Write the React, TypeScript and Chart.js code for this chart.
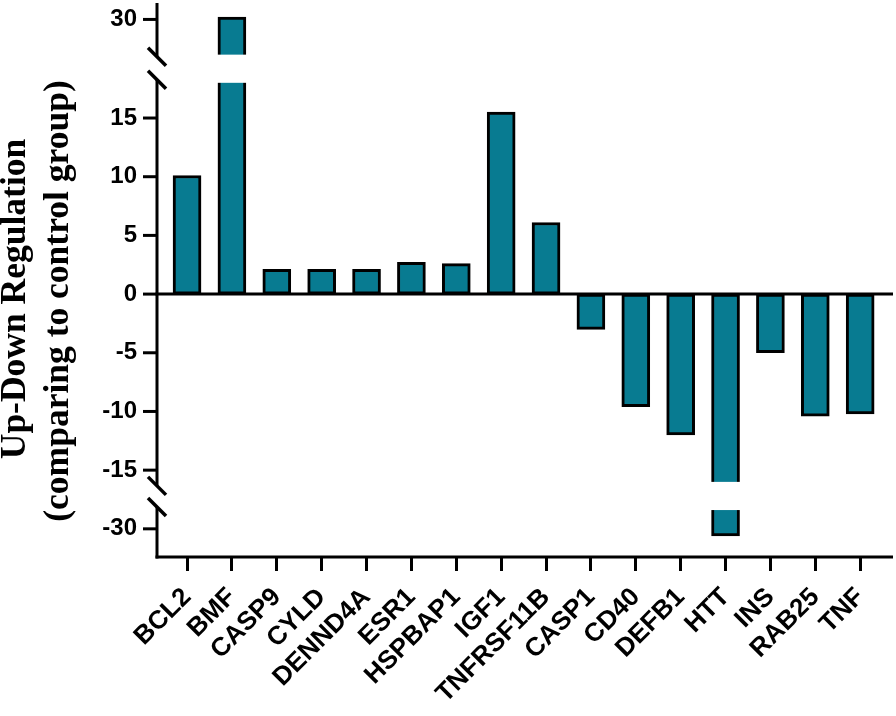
import React, { useEffect, useRef } from "react";
import { Chart, registerables } from "chart.js";

Chart.register(...registerables);

const CATEGORIES = [
  "BCL2", "BMF", "CASP9", "CYLD", "DENND4A", "ESR1", "HSPBAP1", "IGF1",
  "TNFRSF11B", "CASP1", "CD40", "DEFB1", "HTT", "INS", "RAB25", "TNF",
];
const VALUES = [10.1, 30.2, 2.1, 2.1, 2.1, 2.7, 2.6, 15.5, 6.1, -3.0, -9.6, -12.0, -30.6, -5.0, -10.4, -10.2];
const Y_TICKS = [-30, -15, -10, -5, 0, 5, 10, 15, 30];
const Y_TITLE = ["Up-Down Regulation", "(comparing to control group)"];

// broken-axis segments (value space)
const MID_MAX = 18;
const MID_MIN = -16;
const GAP = 2.4;
const TOP_LO = 27;
const TOP_HI = 31.4;
const BOT_HI = -28.4;
const BOT_LO = -32.4;

const BAR_COLOR = "#087b91";
const SANS = "'Liberation Sans', Arial, sans-serif";
const SERIF = "'Liberation Serif', 'Times New Roman', serif";

function toDisplay(v: number): number {
  if (v > MID_MAX) return MID_MAX + GAP + (v - TOP_LO);
  if (v < MID_MIN) return MID_MIN - GAP - (BOT_HI - v);
  return v;
}

const brokenAxisPlugin = {
  id: "brokenAxis",
  afterDatasetsDraw(chart: any) {
    const { ctx, chartArea, scales } = chart;
    const y = scales.y;
    const axisX = chartArea.left - 7.6;
    const right = chartArea.right + 10.4;
    const topGapLo = y.getPixelForValue(MID_MAX);
    const topGapHi = y.getPixelForValue(MID_MAX + GAP);
    const botGapHi = y.getPixelForValue(MID_MIN);
    const botGapLo = y.getPixelForValue(MID_MIN - GAP);

    ctx.save();
    ctx.fillStyle = "#ffffff";
    ctx.fillRect(axisX - 12, topGapHi, right - axisX + 14, topGapLo - topGapHi);
    ctx.fillRect(axisX - 12, botGapHi, right - axisX + 14, botGapLo - botGapHi);

    ctx.strokeStyle = "#000";
    ctx.lineWidth = 3;
    ctx.lineCap = "butt";
    const line = (x1: number, y1: number, x2: number, y2: number) => {
      ctx.beginPath();
      ctx.moveTo(x1, y1);
      ctx.lineTo(x2, y2);
      ctx.stroke();
    };
    const s1 = topGapHi + 2;
    const s2 = topGapLo - 3;
    const s3 = botGapHi + 4;
    const s4 = botGapLo - 3;
    line(axisX, chartArea.top, axisX, s1);
    line(axisX, s2, axisX, s3);
    line(axisX, s4, axisX, chartArea.bottom + 1.5);
    const zeroY = y.getPixelForValue(0);
    line(axisX - 1.5, zeroY, right, zeroY);
    line(axisX - 1.5, chartArea.bottom, right, chartArea.bottom);
    for (const t of Y_TICKS) {
      const py = y.getPixelForValue(toDisplay(t));
      line(axisX - 14, py, axisX, py);
    }
    ctx.lineWidth = 3.5;
    for (const sy of [s1, s2, s3, s4]) {
      line(axisX - 9, sy - 9, axisX + 9, sy + 9);
    }
    ctx.fillStyle = "#000";
    ctx.font = `bold 35.5px ${SERIF}`;
    ctx.textAlign = "center";
    ctx.textBaseline = "alphabetic";
    const pos = [
      [25, 299],
      [68, 301],
    ];
    Y_TITLE.forEach((txt, i) => {
      ctx.save();
      ctx.translate(pos[i][0], pos[i][1]);
      ctx.rotate(-Math.PI / 2);
      ctx.fillText(txt, 0, 0);
      ctx.restore();
    });
    ctx.restore();
  },
};

export default function App() {
  const canvasRef = useRef<HTMLCanvasElement | null>(null);

  useEffect(() => {
    if (!canvasRef.current) return;
    const chart = new Chart(canvasRef.current, {
      type: "bar",
      data: {
        labels: CATEGORIES,
        datasets: [
          {
            data: VALUES.map(toDisplay),
            backgroundColor: BAR_COLOR,
            borderColor: "#000",
            borderWidth: 3,
            borderSkipped: false,
            barThickness: 28,
          },
        ],
      },
      options: {
        animation: false,
        responsive: false,
        devicePixelRatio: 1,
        layout: { padding: { top: 3, right: 13.4, left: 0, bottom: 0 } },
        plugins: { legend: { display: false }, tooltip: { enabled: false } },
        scales: {
          x: {
            type: "category",
            offset: true,
            grid: {
              display: true,
              drawOnChartArea: false,
              drawTicks: true,
              tickLength: 14,
              tickWidth: 3,
              tickColor: "#000",
              offset: false,
            },
            border: { display: false },
            ticks: {
              color: "#000",
              font: { family: SANS, size: 26, weight: "bold" },
              minRotation: 45,
              maxRotation: 45,
              autoSkip: false,
              padding: 11,
            },
            afterFit: (s: any) => {
              s.height = 159;
              s.paddingTop = 0;
              s.paddingBottom = 0;
              s.paddingLeft = 0;
              s.paddingRight = 0;
            },
          },
          y: {
            type: "linear",
            min: toDisplay(BOT_LO),
            max: toDisplay(TOP_HI),
            afterBuildTicks: (s: any) => {
              s.ticks = Y_TICKS.map((v) => ({ value: toDisplay(v) }));
            },
            grid: { display: false, drawTicks: false },
            border: { display: false },
            ticks: {
              color: "#000",
              font: { family: SANS, size: 24, weight: "bold" },
              padding: 27.6,
              callback: (_v: any, i: number) => String(Y_TICKS[i]),
            },
            afterFit: (s: any) => {
              s.width = 164.6;
              s.paddingTop = 0;
              s.paddingBottom = 0;
              s.paddingLeft = 0;
              s.paddingRight = 0;
            },
          },
        },
      } as any,
      plugins: [brokenAxisPlugin],
    });
    return () => chart.destroy();
  }, []);

  return (
    <div style={{ position: "absolute", left: 0, top: 0, width: 896, height: 716, background: "#fff" }}>
      <canvas ref={canvasRef} width={896} height={716} />
    </div>
  );
}
